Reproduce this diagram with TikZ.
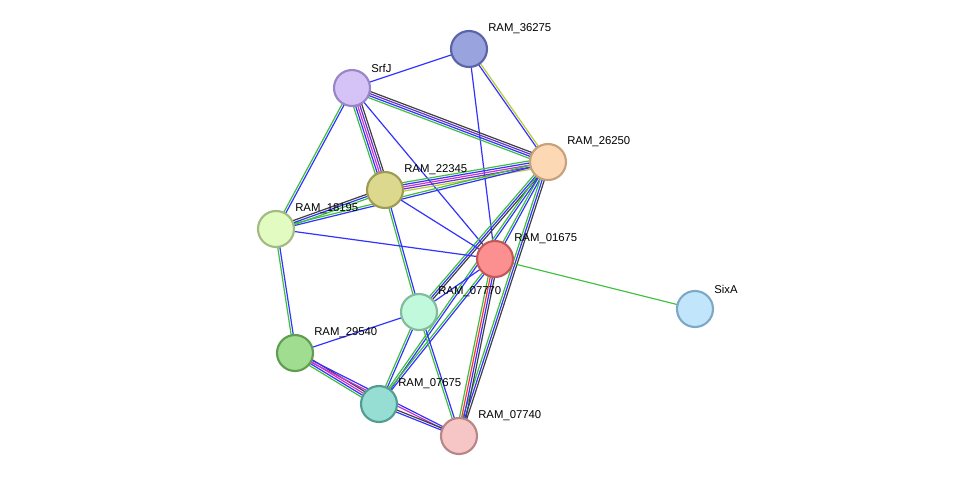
\documentclass[tikz,border=0pt]{standalone}
\usepackage{fontspec}
\setmainfont{Liberation Sans}
\usetikzlibrary{calc}
\pgfdeclarelayer{bg}\pgfsetlayers{bg,main}
\definecolor{eg}{HTML}{3FBF3F}\definecolor{eb}{HTML}{3333FF}\definecolor{ek}{HTML}{404040}
\definecolor{em}{HTML}{CC33CC}\definecolor{ey}{HTML}{BBCC33}\definecolor{ep}{HTML}{6633CC}\definecolor{er}{HTML}{FF3333}
\tikzset{prot/.style={circle,minimum size=27pt,inner sep=0pt,line width=1.6pt},
lab/.style={anchor=west,font=\fontsize{8.5pt}{9pt}\selectfont,inner sep=0pt}}
\newcommand{\medge}[3]{%
 \foreach \c [count=\i] in {#3}{\global\let\nn\i}%
 \foreach \c [count=\i] in {#3}{%
  \pgfmathsetmacro{\off}{(\i-(\nn+1)/2)*1.6}%
  \draw[\c,line width=0.9pt] ($(#1.center)!\off pt!90:(#2.center)$) -- ($(#2.center)!\off pt!-90:(#1.center)$);}}
\begin{document}
\begin{tikzpicture}[x=0.75pt,y=-0.75pt]
\node[prot,fill={rgb,255:red,153;green,163;blue,221},draw={rgb,255:red,90;green,100;blue,168}] (n36275) at (469,49) {};
\node[prot,fill={rgb,255:red,213;green,195;blue,248},draw={rgb,255:red,154;green,134;blue,198}] (srfj) at (352,88) {};
\node[prot,fill={rgb,255:red,253;green,216;blue,181},draw={rgb,255:red,200;green,160;blue,122}] (n26250) at (548,162) {};
\node[prot,fill={rgb,255:red,220;green,217;blue,142},draw={rgb,255:red,158;green,155;blue,83}] (n22345) at (385,190) {};
\node[prot,fill={rgb,255:red,225;green,251;blue,193},draw={rgb,255:red,161;green,187;blue,131}] (n18195) at (276,229) {};
\node[prot,fill={rgb,255:red,252;green,144;blue,144},draw={rgb,255:red,196;green,88;blue,88}] (n01675) at (495,259) {};
\node[prot,fill={rgb,255:red,193;green,230;blue,252},draw={rgb,255:red,127;green,168;blue,196}] (sixa) at (695,309) {};
\node[prot,fill={rgb,255:red,193;green,249;blue,221},draw={rgb,255:red,131;green,187;blue,159}] (n07770) at (419,312) {};
\node[prot,fill={rgb,255:red,160;green,221;blue,145},draw={rgb,255:red,95;green,158;blue,81}] (n29540) at (295,353) {};
\node[prot,fill={rgb,255:red,150;green,221;blue,211},draw={rgb,255:red,83;green,156;blue,146}] (n07675) at (379,404) {};
\node[prot,fill={rgb,255:red,246;green,197;blue,197},draw={rgb,255:red,184;green,134;blue,134}] (n07740) at (459,436) {};
\begin{pgfonlayer}{bg}
\fill[white] (0,0) rectangle (976,482);
\medge{n36275}{srfj}{eb}
\medge{n36275}{n26250}{eb,ey}
\medge{n36275}{n01675}{eb}
\medge{srfj}{n26250}{eg,eb,ep,ek}
\medge{srfj}{n22345}{eg,eb,em,ep,ek}
\medge{srfj}{n18195}{eg,eb}
\medge{srfj}{n01675}{eb}
\medge{n26250}{n22345}{eg,eb,em,ep,ey}
\medge{n26250}{n18195}{eg,eb}
\medge{n26250}{n01675}{eg,eb}
\medge{n26250}{n07770}{eg,eb,ek}
\medge{n26250}{n07675}{eg,eb}
\medge{n26250}{n07740}{eg,eb,ek}
\medge{n22345}{n18195}{ek,eb,eg}
\medge{n22345}{n01675}{eb}
\medge{n22345}{n07770}{eg,eb}
\medge{n18195}{n01675}{eb}
\medge{n18195}{n29540}{eg,eb}
\medge{n01675}{sixa}{eg}
\medge{n01675}{n07770}{eb}
\medge{n01675}{n07675}{eg,eb}
\medge{n01675}{n07740}{eg,er,eb,ek}
\medge{n29540}{n07770}{eb}
\medge{n07770}{n07675}{eg,eb}
\medge{n07770}{n07740}{eg,eb}
\medge{n29540}{n07675}{eg,eb,em,ek}
\medge{n29540}{n07740}{em,eb}
\medge{n07675}{n07740}{eb,ek}
\end{pgfonlayer}
\node[lab] (l1) at (488,29) {RAM\_36275};
\node[lab] (l2) at (371,68) {SrfJ};
\node[lab] (l3) at (567,142) {RAM\_26250};
\node[lab] (l4) at (404,170) {RAM\_22345};
\node[lab] (l5) at (295,209) {RAM\_18195};
\node[lab] (l6) at (514,239) {RAM\_01675};
\node[lab] (l7) at (714,289) {SixA};
\node[lab] (l8) at (438,292) {RAM\_07770};
\node[lab] (l9) at (314,333) {RAM\_29540};
\node[lab] (l10) at (398,384) {RAM\_07675};
\node[lab] (l11) at (478,416) {RAM\_07740};
\end{tikzpicture}
\end{document}
